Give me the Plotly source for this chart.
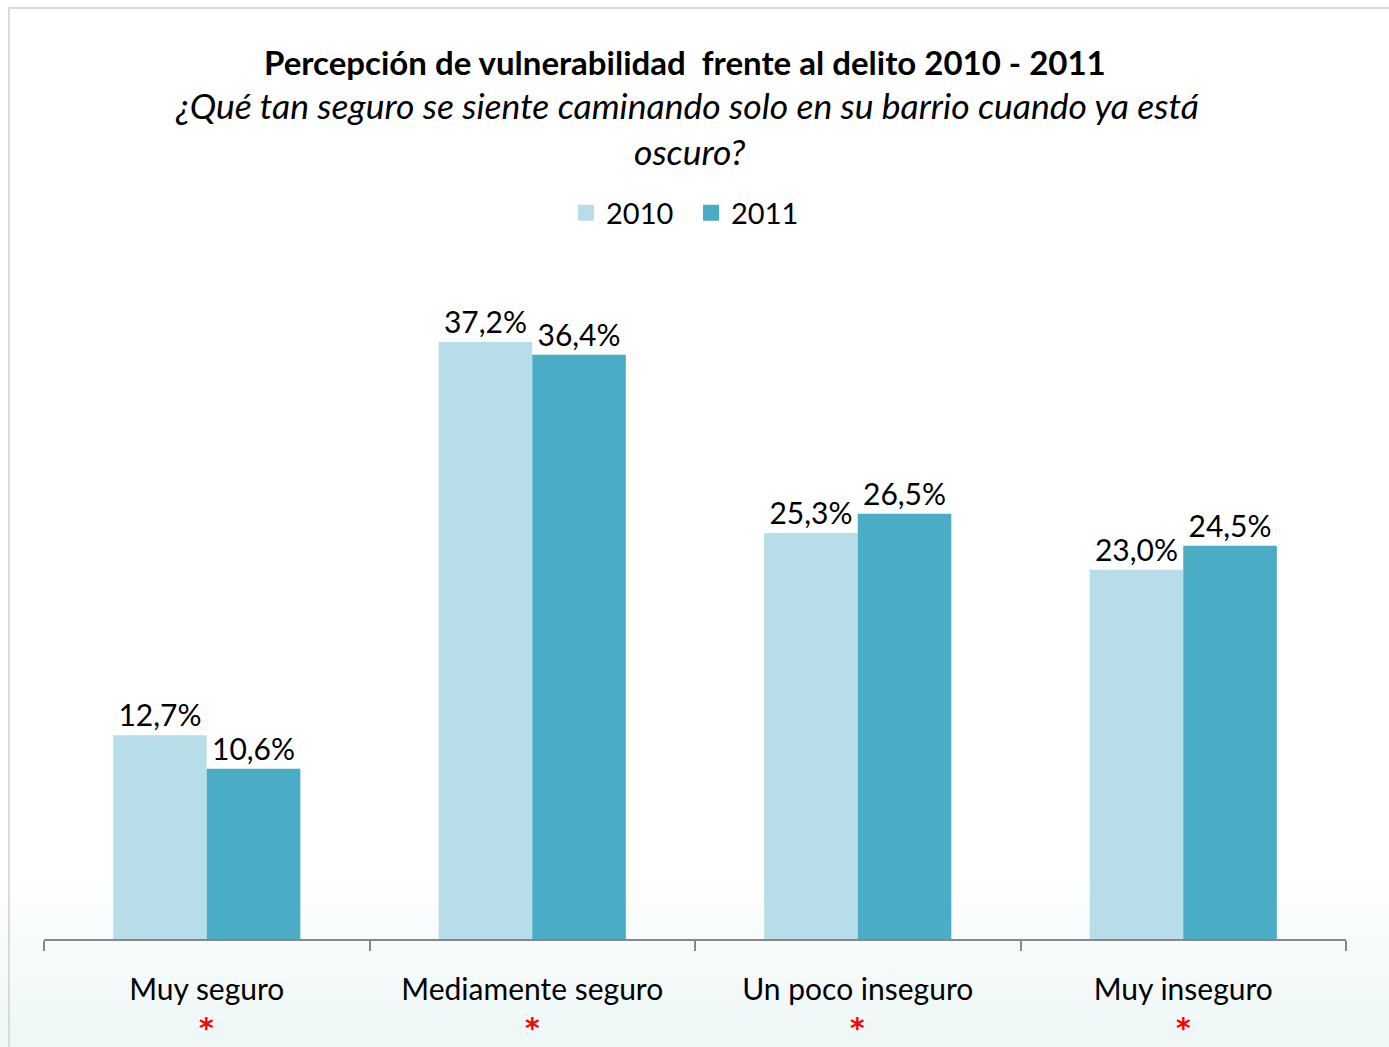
import plotly.graph_objects as go

categories = ["Muy seguro", "Mediamente seguro", "Un poco inseguro", "Muy inseguro"]
vals_2010 = [12.7, 37.2, 25.3, 23.0]
vals_2011 = [10.6, 36.4, 26.5, 24.5]
series_names = ["2010", "2011"]
colors = ["#B7DDE8", "#4BACC6"]
significance_marks = ["*", "*", "*", "*"]

FONT = "Lato"

# the page body margin is removed (see post_script), so figure px == page px
W, H = 1389, 1047
PL, PR, PT, PB = 44, 1346, 297, 939  # plot area in px

def fmt(v):
    return f"{v:.1f}".replace(".", ",") + "%"

fig = go.Figure()
for name, vals, col in zip(series_names, [vals_2010, vals_2011], colors):
    fig.add_trace(go.Bar(
        x=categories, y=vals, name=name, showlegend=False,
        marker=dict(color=col, line=dict(width=0)),
        text=[fmt(v) for v in vals],
        textposition="outside",
        textfont=dict(family=FONT, size=30, color="#000000"),
        constraintext="none", cliponaxis=False,
    ))
# legend entries with larger square swatches
for name, col in zip(series_names, colors):
    fig.add_trace(go.Scatter(
        x=[None], y=[None], name=name, mode="markers",
        marker=dict(symbol="square", size=17, color=col), showlegend=True,
    ))

plot_w = PR - PL
plot_h = PB - PT

def xp(px):
    return (px - PL) / plot_w

def yp(py):
    return (PB - py) / plot_h

fig.update_layout(
    width=W, height=H,
    paper_bgcolor="white", plot_bgcolor="rgba(0,0,0,0)",
    barmode="group", bargap=0.425, bargroupgap=0,
    margin=dict(l=PL, r=W - PR, t=PT, b=H - PB, pad=0, autoexpand=False),
    font=dict(family=FONT, color="#000000"),
    showlegend=True,
    legend=dict(orientation="h", x=xp(691), xanchor="center", xref="paper",
                y=1 - 213 / H, yref="container", yanchor="middle",
                font=dict(family=FONT, size=29, color="#000000"),
                itemwidth=30, itemsizing="trace", traceorder="normal", entrywidth=80),
    xaxis=dict(
        tickmode="array", tickvals=categories, ticktext=categories,
        tickson="boundaries", ticks="outside", ticklen=10, tickcolor="#888888", tickwidth=2,
        showline=True, linecolor="#888888", linewidth=2,
        tickfont=dict(family=FONT, size=30, color="#000000"),
        ticklabelstandoff=23, automargin=False,
    ),
    yaxis=dict(range=[0, 40], visible=False, showgrid=False, zeroline=False, automargin=False),
)

fig.add_annotation(text="<b>Percepción de vulnerabilidad  frente al delito 2010 - 2011</b>",
                   xref="paper", yref="paper", x=xp(685), y=yp(62), yanchor="middle",
                   showarrow=False, font=dict(family=FONT, size=33, color="#000000"))
fig.add_annotation(text="<i>¿Qué tan seguro se siente caminando solo en su barrio cuando ya está</i>",
                   xref="paper", yref="paper", x=xp(687), y=yp(106), yanchor="middle",
                   showarrow=False, font=dict(family=FONT, size=35.5, color="#000000"))
fig.add_annotation(text="<i>oscuro?</i>",
                   xref="paper", yref="paper", x=xp(689), y=yp(151), yanchor="middle",
                   showarrow=False, font=dict(family=FONT, size=35.5, color="#000000"))

# red significance asterisks under each category label
for cat, mark in zip(categories, significance_marks):
    fig.add_annotation(text=f"<b>{mark}</b>", xref="x", yref="paper", x=cat,
                       y=yp(H), yanchor="bottom", showarrow=False,
                       font=dict(family="DejaVu Sans", size=28, color="#FF0000"))

# subtle bluish gradient at the bottom of the slide
for i in range(8):
    top = 880 + i * 20
    fig.add_shape(type="rect", xref="paper", yref="paper",
                  x0=xp(0), x1=xp(W), y0=yp(H), y1=yp(top),
                  line=dict(width=0), fillcolor="rgba(200,215,228,0.035)", layer="below")

# outer frame (top and left edges visible)
fig.add_shape(type="rect", xref="paper", yref="paper",
              x0=xp(9), x1=xp(W + 5), y0=yp(H + 5), y1=yp(8),
              line=dict(color="#DADADA", width=2), fillcolor="rgba(0,0,0,0)", layer="below")

fig.write_html("out.html", config={"displayModeBar": False},
               post_script="document.body.style.margin='0px';")
